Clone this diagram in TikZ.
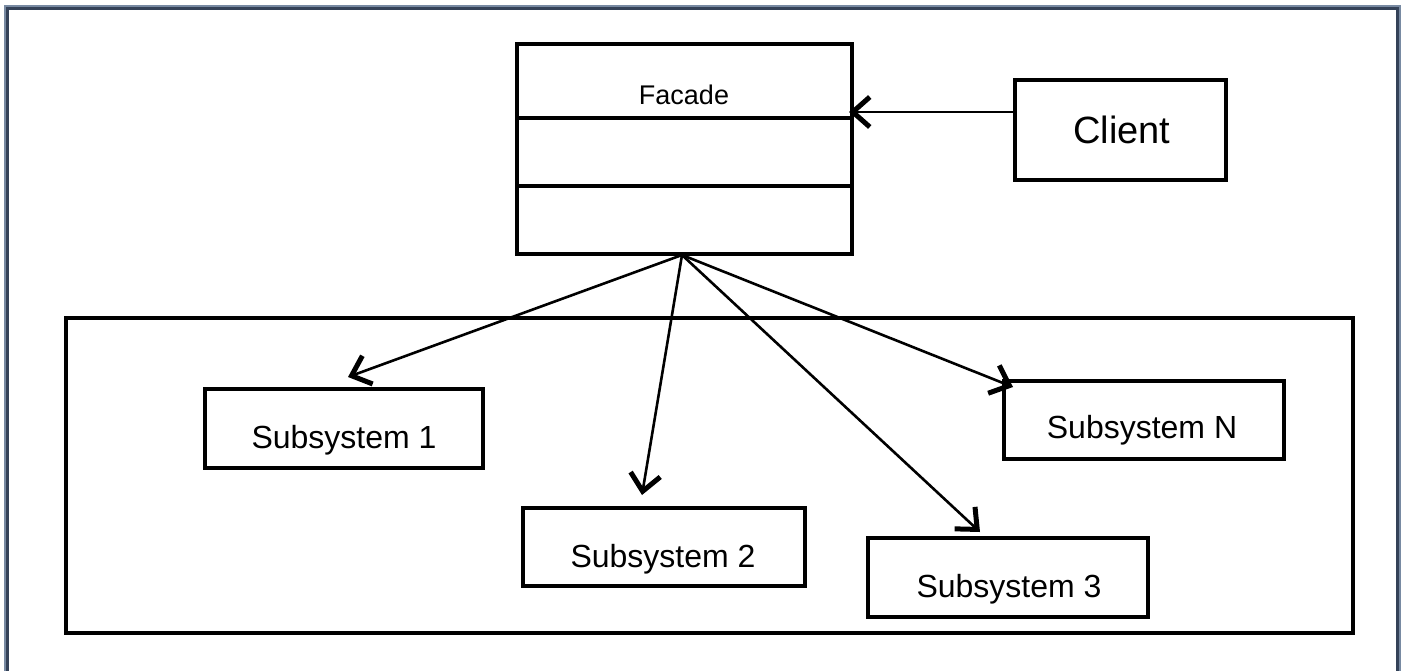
\documentclass[tikz,border=0pt]{standalone}
\usepackage{fontspec}
\setmainfont{Liberation Sans}
\usetikzlibrary{arrows.meta}
\definecolor{frameDark}{RGB}{52,66,88}
\definecolor{frameLight}{RGB}{120,138,162}
\begin{document}
\begin{tikzpicture}[x=1pt,y=-1pt,
  box/.style={draw=black,line width=3.2pt,inner sep=0pt,fill=white},
  sublbl/.style={inner sep=0pt,font=\fontsize{32}{36}\selectfont,text height=23pt,text depth=0pt},
  conn/.style={line width=2.6pt,-{Straight Barb[length=17pt,width=30pt,line width=5pt]}}
]
\useasboundingbox (0,0) rectangle (1403,670);
\clip (0,0) rectangle (1403,670);
\fill[white] (0,0) rectangle (1403,670);
% outer frame
\draw[frameLight,line width=2pt] (5,6) rectangle (1400,700);
\draw[frameDark,line width=3.5pt] (7.5,8.5) rectangle (1397.5,700);

% subsystem container
\node[box,minimum width=1287pt,minimum height=315pt] (Sys) at (709.5,475.5) {};

% facade
\node[box,minimum width=335pt,minimum height=210pt] (F) at (684.5,149) {};
\draw[line width=3.2pt] (F.west |- 0,118) -- (F.east |- 0,118);
\draw[line width=3.2pt] (F.west |- 0,186) -- (F.east |- 0,186);
\node[inner sep=0pt,font=\fontsize{27}{30}\selectfont,text height=19.5pt,text depth=0pt] (Ft) at (684,95) {Facade};

% client
\node[box,minimum width=211pt,minimum height=100pt] (C) at (1120.5,130) {};
\node[inner sep=0pt,font=\fontsize{38}{42}\selectfont,text height=27pt,text depth=0pt] (Ct) at (1122,130) {Client};

% subsystems
\node[box,minimum width=278pt,minimum height=79pt] (S1) at (344,428.5) {};
\node[sublbl] (S1t) at (344,437) {Subsystem 1};
\node[box,minimum width=282pt,minimum height=78pt] (S2) at (664,547) {};
\node[sublbl] (S2t) at (663,556) {Subsystem 2};
\node[box,minimum width=280pt,minimum height=79pt] (S3) at (1008,577.5) {};
\node[sublbl] (S3t) at (1009,586) {Subsystem 3};
\node[box,minimum width=280pt,minimum height=78pt] (SN) at (1144,420) {};
\node[sublbl] (SNt) at (1142,427) {Subsystem N};

% connectors
\coordinate (o) at (682,255);
\coordinate (t1) at (348,377);
\coordinate (t2) at (642,495);
\coordinate (t3) at (980,532);
\coordinate (tN) at (1013,387);
\coordinate (cS) at (C.west |- 0,112);
\coordinate (cT) at (849,112);
\draw[conn] (o) -- (t1);
\draw[conn] (o) -- (t2);
\draw[conn] (o) -- (t3);
\draw[conn] (o) -- (tN);
\draw[conn] (cS) -- (cT);
\end{tikzpicture}
\end{document}
